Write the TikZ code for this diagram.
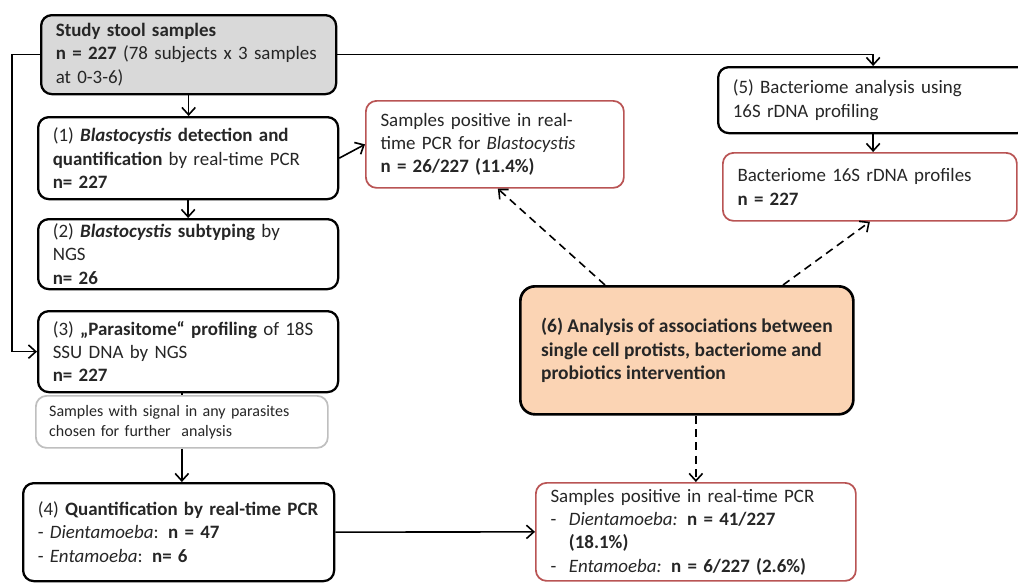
\documentclass[tikz,border=0pt]{standalone}
\usepackage{fontspec}
\setmainfont{Carlito}
\usetikzlibrary{arrows.meta,calc}
\definecolor{txt}{RGB}{38,38,38}
\definecolor{grayfill}{RGB}{217,217,217}
\definecolor{lightborder}{RGB}{191,191,191}
\definecolor{redborder}{RGB}{185,84,84}
\definecolor{peach}{RGB}{251,212,180}
\begin{document}
\begin{tikzpicture}[x=0.75pt,y=-0.75pt,
  every node/.style={font=\fontsize{14.2}{17.5}\selectfont, text=txt},
  bx/.style={draw=black, line width=1.7pt, rounded corners=8pt, anchor=north west,
    align=left, inner xsep=11pt, inner ysep=2pt},
  rbx/.style={bx, draw=redborder, line width=1.3pt},
  gbx/.style={draw=lightborder, line width=1.3pt, rounded corners=8pt, anchor=north west,
    align=left, inner xsep=10pt, inner ysep=2pt, font=\fontsize{12}{15}\selectfont},
  arr/.style={line width=1.2pt, -{Straight Barb[length=5.5pt,width=10pt,line width=1.2pt]}},
  darr/.style={arr, dash pattern=on 6pt off 4pt},
  ln/.style={line width=1.2pt}
]
\useasboundingbox (0,0) rectangle (1018,583);

\node[bx, fill=grayfill, text width=199.25pt, minimum height=59.25pt] (S) at (40,14)
  {\textbf{Study stool samples}\\ \textbf{n = 227} (78 subjects x 3 samples\\ at 0-3-6)};
\node[bx, text width=203pt, minimum height=61.5pt] (b1) at (37,116)
  {(1) \textbf{\textit{Blastocystis} detection and}\\ \textbf{quantification} by real-time PCR\\ \textbf{n= 227}};
\node[bx, text width=203pt, minimum height=52.5pt] (b2) at (37,218)
  {(2) \textbf{\textit{Blastocystis} subtyping} by\\ NGS\\ \textbf{n= 26}};
\node[bx, text width=203pt, minimum height=60.75pt] (b3) at (37,310)
  {(3) \textbf{„Parasitome“ profiling} of 18S\\ SSU DNA by NGS\\ \textbf{n= 227}};
\node[gbx, text width=199pt, minimum height=39pt] (g) at (35,395)
  {Samples with signal in any parasites\\ chosen for further\ \ analysis};
\node[bx, text width=211.25pt, minimum height=73.5pt] (b4) at (22,482)
  {(4) \textbf{Quantification by real-time PCR}\\ - \textit{Dientamoeba}: \textbf{n = 47}\\ - \textit{Entamoeba}: \textbf{n= 6}};

\node[rbx, text width=171.5pt, minimum height=65.25pt] (r1) at (365,100)
  {Samples positive in real-\\ time PCR for \textit{Blastocystis}\\ \textbf{n = 26/227 (11.4\%)}};
\node[bx, text width=210.5pt, minimum height=49.5pt] (b5) at (717,66)
  {(5) Bacteriome analysis using\\ 16S rDNA profiling};
\node[rbx, text width=198.5pt, minimum height=51pt] (r2) at (722,152)
  {Bacteriome 16S rDNA profiles\\ \textbf{n = 227}};
\node[bx, fill=peach, line width=2pt, minimum width=249.75pt, minimum height=96pt, rounded corners=11pt,
  font=\fontsize{14.6}{17.5}\selectfont] (b6) at (519,285)
  {\textbf{(6) Analysis of associations between}\\ \textbf{single cell protists, bacteriome and}\\ \textbf{probiotics intervention}};
\node[rbx, text width=218pt, minimum height=73.5pt] (r3) at (535,482)
  {Samples positive in real-time PCR\\ -\ \ \textit{Dientamoeba:} \textbf{n = 41/227}\\ \hphantom{-\ \ }\textbf{(18.1\%)}\\ -\ \ \textit{Entamoeba:} \textbf{n = 6/227 (2.6\%)}};

% connectors
\draw[arr] (S.south) -- (S.south |- b1.north);
\draw[arr] (b1.south) -- (b1.south |- b2.north);
\draw[ln] (b3.south -| g.north) -- (g.north);
\draw[arr] (g.south) -- (g.south |- b4.north);
\draw[arr] (S.west) -- ++(-28,0) |- (b3.west);
\draw[arr] (S.east) -| (b5.north);
\draw[arr] (b5.south) -- (b5.south |- r2.north);
\draw[arr] (b1.east) -- (r1.west);
\draw[arr] (b4.east) -- (r3.west);
\draw[darr] ($(b6.north west)+(86,0)$) -- ($(r1.south)+(3,0)$);
\draw[darr] ($(b6.north west)+(264,0)$) -- (r2.south);
\draw[darr] (r3.north |- b6.south) -- (r3.north);
\end{tikzpicture}
\end{document}
